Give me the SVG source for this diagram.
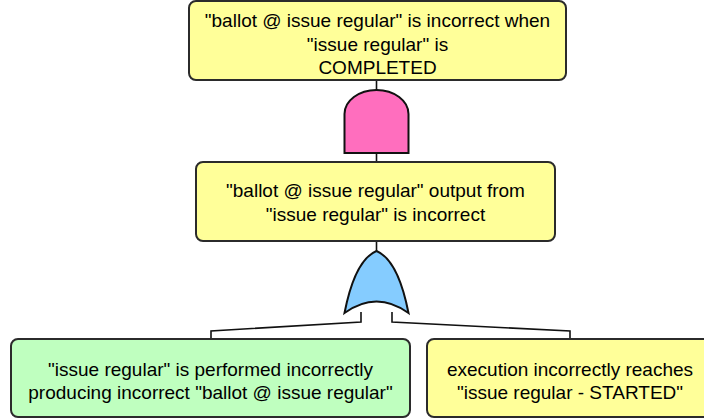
<svg xmlns="http://www.w3.org/2000/svg" width="704" height="418" viewBox="0 0 704 418">
<defs>
<style>
.box{stroke:#2b2b2b;stroke-width:2}
.y{fill:#ffff99}
.g{fill:#bfffbf}
.t{font-family:"Liberation Sans",Arial,sans-serif;font-size:19px;fill:#000;text-anchor:middle}
.c{fill:none;stroke:#111;stroke-width:1.6}
.gate{stroke:#111;stroke-width:2}
</style>
</defs>
<g id="connectors">
<path class="c" d="M376.5,80 V90"/>
<path class="c" d="M376.5,153 V162"/>
<path class="c" d="M376.5,241 V251"/>
<path class="c" d="M361,312 V322 L211,331 V339"/>
<path class="c" d="M392,312 V322 L570,331 V339"/>
</g>
<g id="top">
<rect class="box y" x="189" y="1" width="377" height="79" rx="7"/>
<text class="t" x="377.5" y="27">"ballot @ issue regular" is incorrect when</text>
<text class="t" x="377.5" y="50.5">"issue regular" is</text>
<text class="t" x="377.5" y="74">COMPLETED</text>
</g>
<g id="and-gate">
<path class="gate" fill="#ff6ebe" d="M344.5,153 V114 A32,24 0 0 1 408.5,114 V153 Z"/>
</g>
<g id="middle">
<rect class="box y" x="196" y="162" width="359" height="79" rx="7"/>
<text class="t" x="375.5" y="197">"ballot @ issue regular" output from</text>
<text class="t" x="375.5" y="221">"issue regular" is incorrect</text>
</g>
<g id="or-gate">
<path class="gate" fill="#85ccff" d="M376.5,251 C393,258 403,285 408.5,313 Q376.5,290 344.5,313 C350,285 360,258 376.5,251 Z"/>
</g>
<g id="left">
<rect class="box g" x="11" y="339" width="399" height="78" rx="7"/>
<text class="t" x="210.5" y="376">"issue regular" is performed incorrectly</text>
<text class="t" x="210.5" y="399">producing incorrect "ballot @ issue regular"</text>
</g>
<g id="right">
<rect class="box y" x="427" y="339" width="286" height="78" rx="7"/>
<text class="t" x="570" y="376">execution incorrectly reaches</text>
<text class="t" x="570" y="399">"issue regular - STARTED"</text>
</g>
</svg>
